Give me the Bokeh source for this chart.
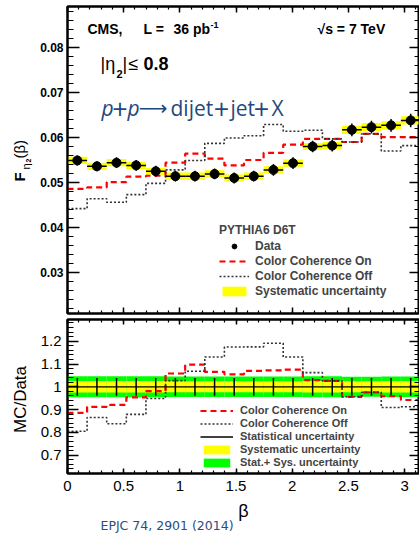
import numpy as np
from bokeh.plotting import figure
from bokeh.models import (Range1d, LinearAxis, FixedTicker, Label, Legend, LegendItem,
                          CustomJSTickFormatter, Span)
from bokeh.layouts import column, row
from bokeh.embed import file_html
from bokeh.resources import INLINE

# ---------------- data ----------------
data_F = [0.0549, 0.0536, 0.0544, 0.0538, 0.0525, 0.0514, 0.0514, 0.0519, 0.0510,
          0.0514, 0.0528, 0.0543, 0.0580, 0.0582, 0.0617, 0.0623, 0.0627, 0.0638]
data_stat = [0.0011, 0.0011, 0.0012, 0.0012, 0.0012, 0.0012, 0.0012, 0.0012, 0.0012,
             0.0012, 0.0013, 0.0013, 0.0013, 0.0013, 0.0014, 0.0014, 0.0014, 0.0015]
data_sys = [0.0008, 0.0008, 0.0008, 0.0008, 0.0008, 0.0008, 0.0008, 0.0008, 0.0008,
            0.0008, 0.0008, 0.0008, 0.0008, 0.0008, 0.0009, 0.0009, 0.0009, 0.0009]
cc_on = [0.0486, 0.0489, 0.0501, 0.0513, 0.0515, 0.0544, 0.0564, 0.0553, 0.0538,
         0.0550, 0.0566, 0.0584, 0.0597, 0.0597, 0.0590, 0.0608, 0.0601, 0.0601]
cc_off = [0.0442, 0.0464, 0.0456, 0.0473, 0.0498, 0.0528, 0.0549, 0.0587, 0.0599,
          0.0604, 0.0629, 0.0614, 0.0616, 0.0597, 0.0590, 0.0608, 0.0570, 0.0582]
ratio_stat = [0.039, 0.039, 0.039, 0.039, 0.039, 0.039, 0.039, 0.039, 0.039,
              0.039, 0.039, 0.039, 0.039, 0.039, 0.039, 0.039, 0.039, 0.039]
ratio_sys = [0.025, 0.025, 0.025, 0.025, 0.025, 0.024, 0.024, 0.024, 0.024,
             0.024, 0.024, 0.024, 0.025, 0.025, 0.024, 0.024, 0.025, 0.025]
ratio_tot = [0.046, 0.046, 0.046, 0.046, 0.046, 0.045, 0.045, 0.045, 0.045,
             0.045, 0.045, 0.045, 0.046, 0.046, 0.044, 0.044, 0.045, 0.045]

x_ticks = [0, 0.5, 1, 1.5, 2, 2.5, 3]
top_y_ticks = [0.03, 0.04, 0.05, 0.06, 0.07, 0.08]
bot_y_ticks = [0.7, 0.8, 0.9, 1.0, 1.1, 1.2]

# ---------------- derived ----------------
edges = np.linspace(0.0, np.pi, len(data_F) + 1)
lefts, rights = edges[:-1], edges[1:]
centers = 0.5 * (lefts + rights)
dF = np.array(data_F)
dstat = np.array(data_stat)
dsys = np.array(data_sys)
on = np.array(cc_on)
off = np.array(cc_off)
r_on = on / dF
r_off = off / dF
rs = np.array(ratio_stat)
rsy = np.array(ratio_sys)
rt = np.array(ratio_tot)

FONT = "Liberation Sans"
STRIP_W = 36      # left strip holding the y titles
FL = 67           # frame left on page
FW = 352          # frame width
X_END = FW / 112.36

x_minor = [round(0.1 * i, 2) for i in range(0, 32)]
top_minor = [round(0.022 + 0.002 * i, 4) for i in range(0, 34)]
bot_minor = [round(0.62 + 0.02 * i, 3) for i in range(0, 34)]


def make_fig(y0, y1, fh, top_b, bot_b):
    p = figure(frame_width=FW, frame_height=fh, x_range=Range1d(0, X_END),
               y_range=Range1d(y0, y1), output_backend="svg", toolbar_location=None,
               min_border_left=FL - STRIP_W, min_border_right=0, min_border_top=top_b,
               min_border_bottom=bot_b)
    p.xgrid.visible = False
    p.ygrid.visible = False
    p.outline_line_color = "black"
    p.outline_line_width = 2
    p.background_fill_color = "white"
    p.border_fill_color = "white"
    return p


def make_strip(w, h):
    p = figure(width=w, height=h, x_range=Range1d(0, 1), y_range=Range1d(0, 1),
               x_axis_type=None, y_axis_type=None, output_backend="svg",
               toolbar_location=None, min_border=0)
    p.outline_line_color = None
    p.background_fill_color = "white"
    p.border_fill_color = "white"
    return p


def style_axis(ax, ticks, minor, tin, tmin, labels=False, size="12px", style="bold",
               standoff=4, code=None):
    ax.ticker = FixedTicker(ticks=ticks, minor_ticks=minor)
    ax.axis_line_width = 2
    ax.axis_line_color = "black"
    ax.major_tick_in = tin
    ax.major_tick_out = 0
    ax.minor_tick_in = tmin
    ax.minor_tick_out = 0
    ax.major_tick_line_width = 1.5
    ax.minor_tick_line_width = 1.2
    ax.axis_label = None
    if labels:
        ax.major_label_text_font = FONT
        ax.major_label_text_font_size = size
        ax.major_label_text_font_style = style
        ax.major_label_text_color = "black"
        ax.major_label_standoff = standoff
        ax.formatter = CustomJSTickFormatter(code=code)
    else:
        ax.major_label_text_font_size = "0px"
        ax.major_label_standoff = 0
        ax.formatter = CustomJSTickFormatter(code="return ''")


def add_text(p, fl, fb, px, py, text, size, style="normal", color="black", font=FONT,
             angle=0.0, align="left", baseline="middle"):
    p.add_layout(Label(x=px - fl, y=fb - py, x_units="screen", y_units="screen",
                       text=text, text_font=font, text_font_size=f"{size}px",
                       text_font_style=style, text_color=color, angle=angle,
                       text_align=align, text_baseline=baseline))


# ================= top panel =================
TOP_FB = 313
p1 = make_fig(0.06 - (313 - 137) / 4500.0, 0.06 + (137 - 6) / 4500.0, 307, 6, 3)
style_axis(p1.yaxis[0], top_y_ticks, top_minor, 12, 6, labels=True, size="12px",
           style="bold", standoff=4, code="return (Math.round(tick*100)/100).toString()")
style_axis(p1.xaxis[0], x_ticks, x_minor, 6, 3)
ax_r = LinearAxis()
ax_t = LinearAxis()
p1.add_layout(ax_r, "right")
p1.add_layout(ax_t, "above")
style_axis(ax_r, top_y_ticks, top_minor, 10, 5)
style_axis(ax_t, x_ticks, x_minor, 6, 3)

sys_r = p1.quad(left=lefts, right=rights, bottom=dF - dsys, top=dF + dsys,
                fill_color="#ffff00", line_color=None)
on_r = p1.step(x=edges, y=list(cc_on) + [cc_on[-1]], mode="after", line_color="#ff0000",
               line_width=2.2, line_dash="6 4")
off_r = p1.step(x=edges, y=list(cc_off) + [cc_off[-1]], mode="after", line_color="#333333",
                line_width=1.6, line_dash="2 2")
p1.segment(x0=lefts, y0=dF, x1=rights, y1=dF, line_color="black", line_width=1.5)
p1.segment(x0=centers, y0=dF - dstat, x1=centers, y1=dF + dstat, line_color="black",
           line_width=1.5)
dat_r = p1.scatter(x=centers, y=dF, size=9, fill_color="black", line_color="black")

leg1 = Legend(items=[LegendItem(label="Data", renderers=[dat_r]),
                     LegendItem(label="Color Coherence On", renderers=[on_r]),
                     LegendItem(label="Color Coherence Off", renderers=[off_r]),
                     LegendItem(label="Systematic uncertainty", renderers=[sys_r])],
              location=(152, 15), title="PYTHIA6 D6T", title_text_font=FONT,
              title_text_font_style="bold", title_text_font_size="12px",
              title_standoff=2, label_text_font=FONT, label_text_font_style="bold",
              label_text_font_size="12px", glyph_width=30, glyph_height=12,
              label_height=12, label_standoff=6, spacing=1, padding=0, margin=0,
              border_line_color=None, background_fill_alpha=0)
p1.add_layout(leg1)

# texts in top panel
add_text(p1, FL, TOP_FB, 87, 28, "CMS,", 14, "bold")
add_text(p1, FL, TOP_FB, 143, 28, "L =", 14, "bold")
add_text(p1, FL, TOP_FB, 173, 28, "36 pb", 14, "bold")
add_text(p1, FL, TOP_FB, 210, 24, "-1", 9, "bold")
add_text(p1, FL, TOP_FB, 317, 28, "\u221as = 7 TeV", 14, "bold")
add_text(p1, FL, TOP_FB, 100, 63, "|\u03b7", 18, "normal")
add_text(p1, FL, TOP_FB, 116, 73, "2", 11, "bold")
add_text(p1, FL, TOP_FB, 122, 63, "|", 18, "normal")
add_text(p1, FL, TOP_FB, 128, 63, "\u2264", 18, "normal")
add_text(p1, FL, TOP_FB, 143, 63, "0.8", 18, "bold")
BLUE = "#1f497d"
BL = 107  # baseline of the blue process line
add_text(p1, FL, TOP_FB, 101, BL, "p", 21, "italic", BLUE, "Open Sans", baseline="alphabetic")
add_text(p1, FL, TOP_FB, 119.5, BL + 1, "+", 27, "normal", BLUE, "Open Sans", align="center",
         baseline="alphabetic")
add_text(p1, FL, TOP_FB, 127, BL, "p", 21, "italic", BLUE, "Open Sans", baseline="alphabetic")
add_text(p1, FL, TOP_FB, 152.5, BL, "\u27f6", 20, "normal", BLUE, "DejaVu Sans",
         align="center", baseline="alphabetic")
add_text(p1, FL, TOP_FB, 170, BL, "dijet", 21, "normal", BLUE, "Open Sans",
         baseline="alphabetic")
add_text(p1, FL, TOP_FB, 221, BL + 1, "+", 27, "normal", BLUE, "Open Sans", align="center",
         baseline="alphabetic")
add_text(p1, FL, TOP_FB, 230, BL, "jet", 21, "normal", BLUE, "Open Sans",
         baseline="alphabetic")
add_text(p1, FL, TOP_FB, 261, BL + 1, "+", 27, "normal", BLUE, "Open Sans", align="center",
         baseline="alphabetic")
add_text(p1, FL, TOP_FB, 271, BL, "X", 21, "normal", BLUE, "Open Sans",
         baseline="alphabetic")

# ================= bottom (ratio) panel =================
BOT_FB = 473
p2 = make_fig(1 - (473 - 386.3) / 228.0, 1 + (386.3 - 319) / 228.0, 154, 3, 24)
style_axis(p2.yaxis[0], bot_y_ticks, bot_minor, 11, 6, labels=True, size="15px",
           style="normal", standoff=6, code="return (Math.round(tick*10)/10).toString()")
style_axis(p2.xaxis[0], x_ticks, x_minor, 5, 3, labels=True, size="15px",
           style="normal", standoff=7, code="return (Math.round(tick*10)/10).toString()")
ax_r2 = LinearAxis()
ax_t2 = LinearAxis()
p2.add_layout(ax_r2, "right")
p2.add_layout(ax_t2, "above")
style_axis(ax_r2, bot_y_ticks, bot_minor, 10, 5)
style_axis(ax_t2, x_ticks, x_minor, 5, 3)

tot_r = p2.quad(left=lefts, right=rights, bottom=1 - rt, top=1 + rt,
                fill_color="#00ff00", line_color=None)
sys2_r = p2.quad(left=lefts, right=rights, bottom=1 - rsy, top=1 + rsy,
                 fill_color="#ffff00", line_color=None)
p2.add_layout(Span(location=1.0, dimension="width", line_color="black", line_width=1.2))
stat_r = p2.segment(x0=centers, y0=1 - rs, x1=centers, y1=1 + rs, line_color="black",
                    line_width=1.5)
on2_r = p2.step(x=edges, y=list(r_on) + [r_on[-1]], mode="after", line_color="#ff0000",
                line_width=2.2, line_dash="6 4")
off2_r = p2.step(x=edges, y=list(r_off) + [r_off[-1]], mode="after", line_color="#333333",
                 line_width=1.6, line_dash="2 2")

leg2 = Legend(items=[LegendItem(label="Color Coherence On", renderers=[on2_r]),
                     LegendItem(label="Color Coherence Off", renderers=[off2_r]),
                     LegendItem(label="Statistical uncertainty", renderers=[stat_r]),
                     LegendItem(label="Systematic uncertainty", renderers=[sys2_r]),
                     LegendItem(label="Stat.+ Sys. uncertainty", renderers=[tot_r])],
              location=(133, 5), label_text_font=FONT, label_text_font_style="bold",
              label_text_font_size="11px", glyph_width=33, glyph_height=11,
              label_height=11, label_standoff=7, spacing=1, padding=0, margin=0,
              border_line_color=None, background_fill_alpha=0)
p2.add_layout(leg2)

# ================= left strip: y titles =================
LEFT_H = 497
pl = make_strip(STRIP_W, LEFT_H)
ROT = np.pi / 2
add_text(pl, 0, LEFT_H, 19, 181, "F", 15, "bold", angle=ROT, baseline="alphabetic")
add_text(pl, 0, LEFT_H, 25, 169, "\u03b7", 11, "normal", angle=ROT, baseline="alphabetic")
add_text(pl, 0, LEFT_H, 28, 162, "2", 7, "bold", angle=ROT, baseline="alphabetic")
add_text(pl, 0, LEFT_H, 19, 158, "(\u03b2)", 15, "normal", angle=ROT, baseline="alphabetic")
add_text(pl, 0, LEFT_H, 20, 399, "MC/Data", 17, "normal", angle=ROT, align="center")

# ================= bottom strip: x title + reference =================
pb = make_strip(420, 533 - LEFT_H)
add_text(pb, 0, 533, 243, 510, "\u03b2", 18, "normal", align="center")
add_text(pb, 0, 533, 100, 525, "EPJC 74, 2901 (2014)", 12.5, "normal", "#2b4c7e",
         "DejaVu Sans")

layout = column(row(pl, column(p1, p2, spacing=0), spacing=0), pb, spacing=0)
open("out.html", "w").write(file_html(layout, INLINE))
